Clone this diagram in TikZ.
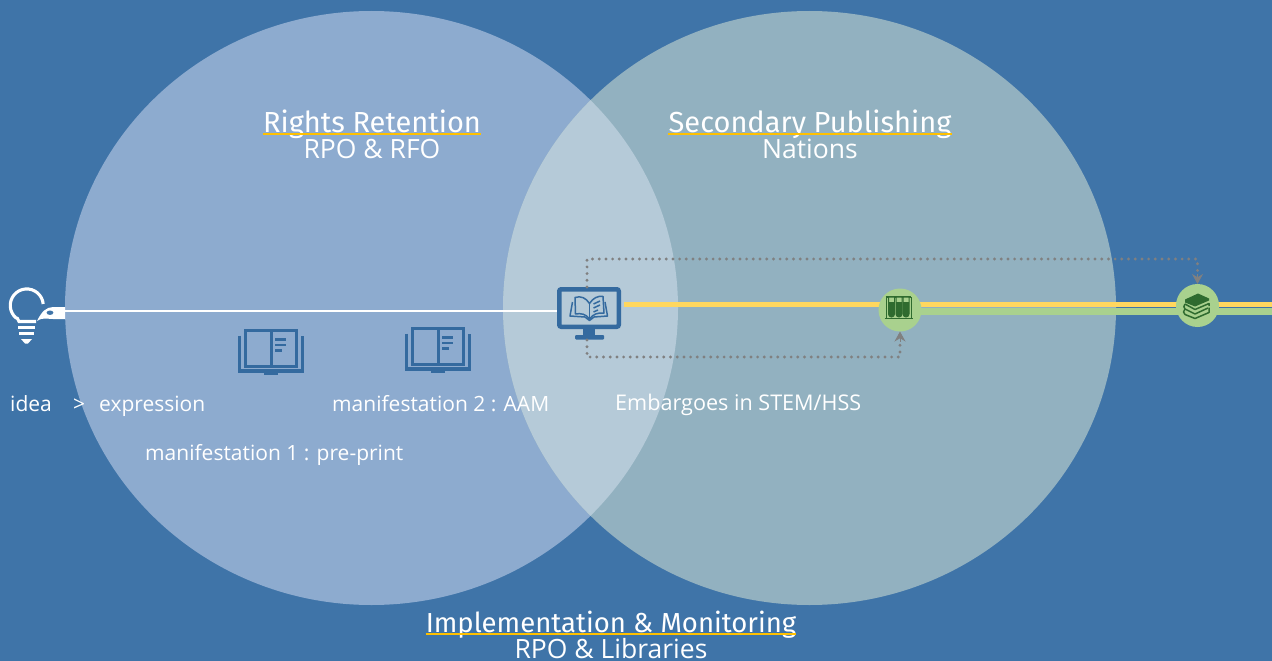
\documentclass[tikz,border=0pt]{standalone}
\usepackage{fontspec}
\setmainfont{Open Sans}
\newfontfamily\titlefont{Fira Sans}
\usetikzlibrary{shapes.geometric,arrows.meta}
\definecolor{bgblue}{HTML}{3F74A8}
\definecolor{leftc}{HTML}{8DABCF}
\definecolor{rightc}{HTML}{92B1C0}
\definecolor{overc}{HTML}{B5CAD8}
\definecolor{iconblue}{HTML}{346A9F}
\definecolor{yel}{HTML}{FFD75E}
\definecolor{ulyel}{HTML}{FFC000}
\definecolor{grn}{HTML}{A9D18E}
\definecolor{dgrn}{HTML}{2F6B2F}
\definecolor{dotgray}{HTML}{808080}
\tikzset{
  venn/.style={ellipse,minimum width=613pt,minimum height=594pt,inner sep=0pt,outer sep=0pt,draw=none},
  maintitle/.style={font=\titlefont\fontsize{29}{29}\selectfont,text=white,inner sep=0pt,anchor=base},
  subtitle/.style={font=\fontsize{26.5}{26.5}\selectfont,text=white,inner sep=0pt,anchor=base},
  small/.style={font=\fontsize{21}{21}\selectfont,text=white,inner sep=0pt,anchor=base west},
  uline/.style={draw=ulyel,line width=2.2pt},
  dotline/.style={draw=dotgray,line width=3.2pt,line cap=round,dash pattern=on 0pt off 6.7pt},
  tipline/.style={draw=dotgray,line width=1pt,-{Stealth[length=10pt,width=11pt,fill=dotgray]}},
  badge/.style={circle,fill=grn,minimum size=43pt,inner sep=0pt,outer sep=0pt},
  iconline/.style={draw=iconblue,line width=3pt},
  bookpic/.pic={
    \draw[iconline] (-25.5,-21) rectangle (25.5,15);
    \draw[iconline] (0,-21) -- (0,15);
    \draw[iconline,line width=2.2pt] (4,-12) -- (15,-12) (4,-6.5) -- (15,-6.5) (4,-1) -- (11,-1);
    \draw[iconline,line width=3.4pt] (-31.5,-16) -- (-31.5,19.5) -- (31.5,19.5) -- (31.5,-16);
    \fill[iconblue] (-7,19.5) -- (7,19.5) -- (7,23) -- (-7,23) -- cycle;
  }
}
\begin{document}
\begin{tikzpicture}[x=1pt,y=-1pt]
\useasboundingbox (0,0) rectangle (1272,661);
\fill[bgblue] (0,0) rectangle (1272,661);
% circles
\node[venn,fill=leftc] (left) at (371.5,308) {};
\node[venn,fill=rightc] (right) at (809.5,308) {};
\begin{scope}
  \clip (371.5,308) ellipse [x radius=306.5pt,y radius=297pt];
  \fill[overc] (809.5,308) ellipse [x radius=306.5pt,y radius=297pt];
\end{scope}
% named positions
\node[draw=iconblue,line width=4.5pt,rounded corners=2pt,minimum width=59.5pt,minimum height=37.5pt,inner sep=0pt,outer sep=2.25pt] (screen) at (589,308) {};
\coordinate (tubes0) at (900,310);
\coordinate (stack0) at (1197.5,305.5);
\coordinate (pen) at (65,311);
\coordinate (up) at (587,259);
\coordinate (down) at (587,357);
% main lines (behind badges)
\fill[grn] (900,308) rectangle (1272,314.5);
\fill[yel] (624,302) rectangle (1272,307.2);
\node[badge] (tubes) at (tubes0) {};
\node[badge] (stack) at (stack0) {};
\draw[white,line width=2.4pt] (pen) -- (screen.west |- pen);
% monitor
\fill[iconblue] (583,329) rectangle (595,336);
\fill[iconblue,rounded corners=1pt] (575,335) rectangle (604,339.5);
\begin{scope}[draw=iconblue,line width=1.5pt,line join=round]
  \draw (575,297.5) .. controls (581,295.5) and (586,298) .. (589.5,303.5) .. controls (593,298) and (598,295.5) .. (603,296.5)
     -- (604,313) .. controls (598,312.5) and (593,314) .. (589.5,319) .. controls (586,314) and (581,313) .. (575.5,314) -- cycle;
  \draw (589.5,303.5) -- (589.5,319);
  \draw (572.5,302) -- (570,316) -- (585,317) -- (589.5,320.5) -- (594,317) -- (607.5,316) -- (605,302);
  \draw (593.5,304) -- (600,301) (593.5,308) -- (600,305) (593.5,312) -- (598,310);
\end{scope}
% test tubes icon
\begin{scope}
  \draw[dgrn,line width=1.4pt] (885.5,297) -- (910.5,297);
  \draw[dgrn,line width=1.8pt] (884.5,318.5) -- (913,318.5);
  \draw[dgrn,line width=1pt] (886.5,297) -- (886.5,318) (911.5,297) -- (911.5,318);
  \foreach \x in {891.5,899,906}{
    \draw[dgrn,line width=1pt,fill=grn] (\x-3,297) -- (\x-3,314) arc[start angle=180,end angle=360,radius=3pt] -- (\x+3,297) -- cycle;
    \fill[dgrn] (\x-3,302) -- (\x-3,314) arc[start angle=180,end angle=360,radius=3pt] -- (\x+3,302) -- cycle;
  }
\end{scope}
% books stack icon
\begin{scope}[line join=round]
  \fill[dgrn] (1185,299.5) -- (1198,293.5) -- (1209,298.5) -- (1209,300.5) -- (1195,306.5) -- (1185,302.5) -- cycle;
  \draw[dgrn,line width=1.5pt] (1185,304) -- (1195,309.5) -- (1209,303.5) -- (1209,306);
  \draw[dgrn,line width=1.5pt] (1185,304) .. controls (1183.5,306) and (1183.5,307.5) .. (1185,309);
  \draw[dgrn,line width=1.5pt] (1185,309) -- (1195,314) -- (1208,308);
  \draw[dgrn,line width=1.5pt] (1185,309) .. controls (1183,311) and (1183,313) .. (1185,314.5) -- (1195,318.5) -- (1209,312.5) -- (1209,307.5);
\end{scope}
% dotted connectors
\draw[dotline] ([xshift=-2pt]screen.north) -- (up) -- (up -| stack) -- ([yshift=11pt]stack.north);
\draw[tipline] ([yshift=10pt]stack.north) -- (stack.north);
\draw[dotline] (587,340) -- (down) -- (down -| tubes) -- ([yshift=-11pt]tubes.south);
\draw[tipline] ([yshift=-10pt]tubes.south) -- (tubes.south);
% book icons
\pic at (271,351.5) {bookpic};
\pic at (438,349.5) {bookpic};
% bulb and pen
\draw[white,line width=3.1pt] (43.2,304) arc[start angle=5,end angle=228,radius=16.5pt] .. controls (17,317) and (18,319) .. (19,321.5) -- (36,321.5);
\fill[white] (65,307) -- (53,307) .. controls (46,307.5) and (42,311) .. (37,321) .. controls (43,317) and (47,319) .. (53,319) -- (65,319) -- cycle;
\fill[bgblue] (50,312.7) ellipse [x radius=3.4pt,y radius=2.2pt];
\draw[white,line width=3pt] (18,327) -- (35,327) (19,333) -- (34,333);
\fill[white] (21,339) -- (32,339) -- (28,343.5) -- (25,343.5) -- cycle;
% titles
\node[maintitle] (t1) at (372,132) {Rights Retention};
\draw[uline] ([yshift=-2.2pt]t1.base west) -- ([yshift=-2.2pt]t1.base east);
\node[subtitle] (s1) at (372,158) {RPO \& RFO};
\node[maintitle] (t2) at (810,132) {Secondary Publishing};
\draw[uline] ([yshift=-2.2pt]t2.base west) -- ([yshift=-2.2pt]t2.base east);
\node[subtitle] (s2) at (810,158) {Nations};
\node[maintitle,font=\titlefont\fontsize{27.5}{27.5}\selectfont] (t3) at (611,632) {Implementation \& Monitoring};
\draw[uline] ([yshift=-2.2pt]t3.base west) -- ([yshift=-2.2pt]t3.base east);
\node[subtitle] (s3) at (611,658) {RPO \& Libraries};
% small labels
\node[small] (l1) at (10,411) {idea};
\node[small] (l2) at (73,411) {>};
\node[small] (l3) at (99,411) {expression};
\node[small] (l4) at (332,411) {manifestation 2 : AAM};
\node[small] (l5) at (145,460) {manifestation 1 : pre-print};
\node[small,font=\fontsize{21.6}{21.6}\selectfont] (l6) at (615,410) {Embargoes in STEM/HSS};
\end{tikzpicture}
\end{document}
